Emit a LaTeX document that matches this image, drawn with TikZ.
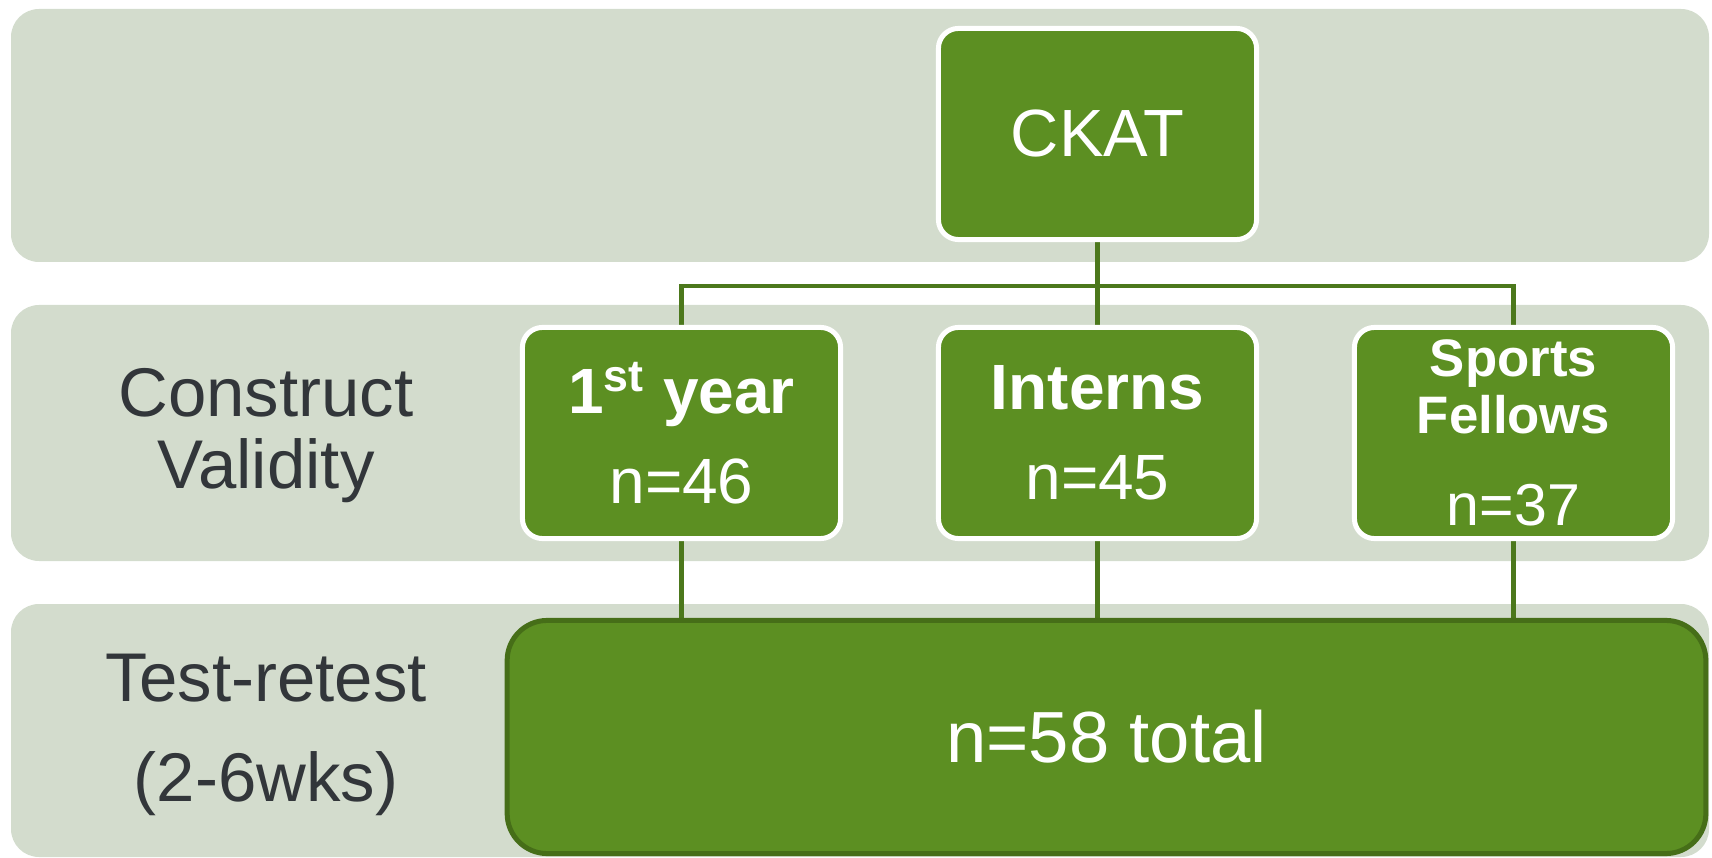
\documentclass[tikz,border=0pt]{standalone}
\usepackage{fontspec}
\setmainfont{Liberation Sans}
\usepackage{xcolor}
\usepackage{tikz}
\usetikzlibrary{positioning,backgrounds}

\definecolor{bandgrey}{RGB}{211,220,205}
\definecolor{boxgreen}{RGB}{92,143,34}
\definecolor{linegreen}{RGB}{76,120,28}
\definecolor{rimgreen}{RGB}{70,110,24}
\definecolor{labelgrey}{RGB}{50,54,58}

\tikzset{
	band/.style = {fill=bandgrey, rounded corners=0.28cm},
	cohort/.style = {draw=white, line width=0.05cm, fill=boxgreen, rounded corners=0.2cm, text=white, align=center, inner sep=0pt, minimum width=3.18cm, minimum height=2.11cm},
	pooled/.style = {draw=rimgreen, line width=0.05cm, fill=boxgreen, rounded corners=0.4cm, text=white, inner sep=0pt, minimum width=11.98cm, minimum height=2.33cm},
	branch/.style = {draw=linegreen, line width=0.045cm},
	rowlabel/.style = {text=labelgrey, align=center}
}

\begin{document}
\begin{tikzpicture}[x=0.01cm, y=-0.01cm]
	\useasboundingbox (0,0) rectangle (1712,858);

	\node [cohort, font=\fontsize{19}{19}\selectfont] (ckat) at (1097.5,134) {CKAT};

	\node [cohort, font=\fontsize{18.2}{25.6}\selectfont] (first) at (681.5,433) {\textbf{1\textsuperscript{st} year}\\n=46};
	\node [cohort, font=\fontsize{18.2}{25.6}\selectfont] (interns) at (1097.5,433) {\textbf{Interns}\\n=45};
	\node [cohort, font=\fontsize{15}{16.1}\selectfont\bfseries] (sports) at (1513.5,433) {Sports\\Fellows\\[10pt]{\mdseries\fontsize{16.8}{16.1}\selectfont n=37}};

	\node [pooled, font=\fontsize{20.6}{20.6}\selectfont] (total) at (1106.5,737) {n=58 total};

	\node [rowlabel, font=\fontsize{19.6}{20.5}\selectfont] (construct) at (266,436) {Construct\\Validity};
	\node [rowlabel, font=\fontsize{19.6}{28.5}\selectfont] (retest) at (266,735) {Test-retest\\(2-6wks)};

	\coordinate (bus) at (1097.5,286);

	\begin{scope}[on background layer]
		\fill [band] (11,9) rectangle (1709,262);
		\fill [band] (11,305) rectangle (1709,561);
		\fill [band] (11,604) rectangle (1709,857);

		\draw [branch] (ckat) -- (interns);
		\draw [branch] (first) |- (bus) -| (sports);
		\draw [branch] (first) -- (first |- total.north);
		\draw [branch] (interns) -- (interns |- total.north);
		\draw [branch] (sports) -- (sports |- total.north);
	\end{scope}
\end{tikzpicture}
\end{document}
